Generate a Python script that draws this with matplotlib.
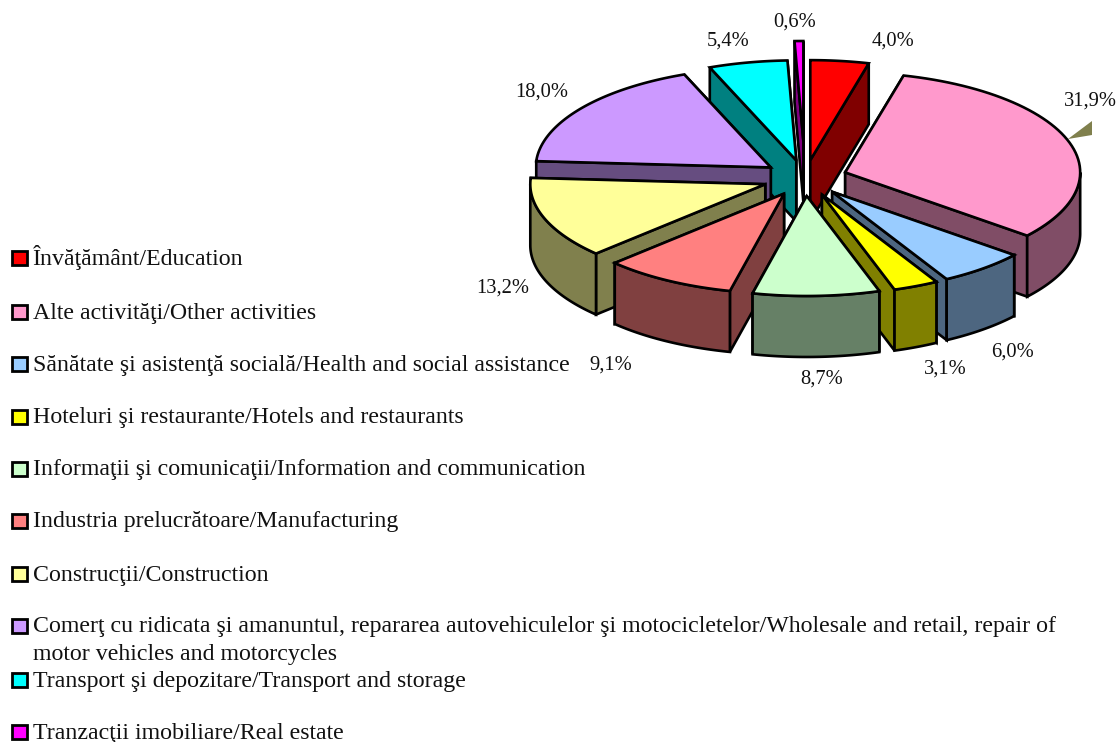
#!/usr/bin/env python3
"""
Exploded 3D-look pie of activities, with a legend column down the left side.
The slices are worked out from the shares, matplotlib has no 3D pie.
"""

import numpy as np
import matplotlib
matplotlib.use("Agg")
import matplotlib.pyplot as plt
from matplotlib.patches import Polygon, Rectangle

# Data
labels = [
    "Învăţământ/Education",
    "Alte activităţi/Other activities",
    "Sănătate şi asistenţă socială/Health and social assistance",
    "Hoteluri şi restaurante/Hotels and restaurants",
    "Informaţii şi comunicaţii/Information and communication",
    "Industria prelucrătoare/Manufacturing",
    "Construcţii/Construction",
    "Comerţ cu ridicata şi amanuntul, repararea autovehiculelor şi motocicletelor/Wholesale and retail, repair of\nmotor vehicles and motorcycles",
    "Transport şi depozitare/Transport and storage",
    "Tranzacţii imobiliare/Real estate",
]
shares = [4.0, 31.9, 6.0, 3.1, 8.7, 9.1, 13.2, 18.0, 5.4, 0.6]
colors = ["#ff0000", "#ff99cc", "#99ccff", "#ffff00", "#ccffcc",
          "#ff8080", "#ffff99", "#cc99ff", "#00ffff", "#ff00ff"]
side_colors = ["#800000", "#804d66", "#4d6680", "#808000", "#668066",
               "#804040", "#80804d", "#664d80", "#008080", "#800080"]
explode = [0.18, 0.18, 0.18, 0.18, 0.18, 0.18, 0.18, 0.18, 0.18, 0.37]

# Layout, in pixels
CX, CY = 805, 178
RX, RY = 235, 100
DEPTH = 61
LW = 1.9
FONT = "Liberation Serif"
label_pos = [(893, 41), (1090, 101), (1012, 352), (945, 369), (822, 379),
             (611, 365), (503, 288), (542, 92), (728, 41), (795, 22)]
legend_y = [257, 311, 363, 416, 468, 520, 573, 625, 679, 731]
draw_order = [9, 8, 0, 7, 1, 6, 2, 5, 3, 4]


def rim(ax_x, ax_y, angles):
    """Points on the ellipse, angle in degrees clockwise from the top."""
    a = np.radians(angles)
    return ax_x + RX * np.sin(a), ax_y - RY * np.cos(a)


def draw_slice(ax, start, end, boom, face, side):
    mid = np.radians((start + end) / 2)
    px = CX + boom * RX * np.sin(mid)
    py = CY - boom * RY * np.cos(mid)

    # The two cut walls, the one lower on screen last
    walls = sorted([start, end], key=lambda a: rim(px, py, a)[1])
    for a in walls:
        x, y = rim(px, py, a)
        ax.add_patch(Polygon([(px, py), (x, y), (x, y + DEPTH), (px, py + DEPTH)],
                             facecolor=side, edgecolor="black", linewidth=LW,
                             joinstyle="miter"))

    # Outer wall, only the part facing the front
    lo, hi = max(start, 90), min(end, 270)
    if hi > lo:
        xs, ys = rim(px, py, np.linspace(lo, hi, 60))
        pts = list(zip(xs, ys)) + list(zip(xs[::-1], ys[::-1] + DEPTH))
        ax.add_patch(Polygon(pts, facecolor=side, edgecolor="black", linewidth=LW,
                             joinstyle="miter"))

    # Top face
    xs, ys = rim(px, py, np.linspace(start, end, 60))
    pts = [(px, py)] + list(zip(xs, ys))
    ax.add_patch(Polygon(pts, facecolor=face, edgecolor="black", linewidth=LW,
                         joinstyle="miter"))


fig = plt.figure(figsize=(11.19, 7.42), dpi=100)
ax = fig.add_axes([0, 0, 1, 1])
ax.set_xlim(0, 1119)
ax.set_ylim(742, 0)
ax.axis("off")

edges = np.concatenate([[0], np.cumsum(shares)]) * 3.6

# Stray leader mark next to the 31,9% label
lx, ly = label_pos[1]
ax.add_patch(Polygon([(lx - 22, ly + 38), (lx + 2, ly + 20), (lx + 2, ly + 34)],
                     facecolor=side_colors[6], edgecolor="none"))

for i in draw_order:
    draw_slice(ax, edges[i], edges[i + 1], explode[i], colors[i], side_colors[i])

for i, share in enumerate(shares):
    x, y = label_pos[i]
    ax.text(x, y, f"{share:.1f}%".replace(".", ","), ha="center", va="center",
            family=FONT, fontsize=14.8, color="#111111")

for i, label in enumerate(labels):
    y = legend_y[i]
    ax.add_patch(Rectangle((12, y - 6), 15, 14, facecolor=colors[i],
                           edgecolor="black", linewidth=2.0))
    if "\n" in label:
        ax.text(33, y - 9, label, ha="left", va="top", family=FONT, fontsize=17.2,
                linespacing=1.45, color="#111111")
    else:
        ax.text(33, y + (1 if i == 0 else 2), label, ha="left", va="center",
                family=FONT, fontsize=17.2, color="#111111")

fig.savefig("out.png", dpi=100)
